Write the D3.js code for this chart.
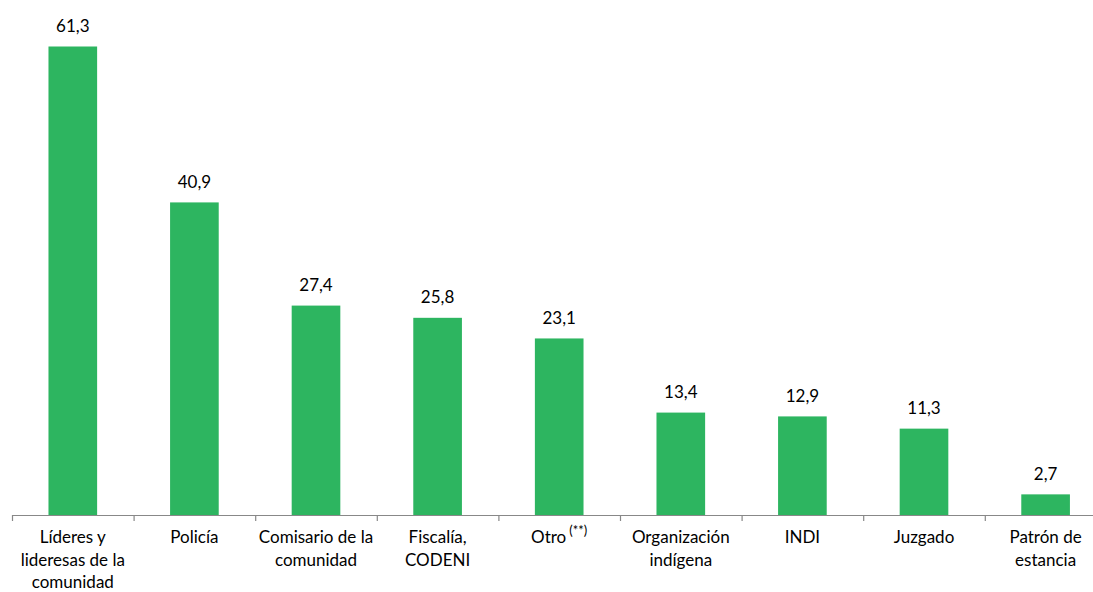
<!DOCTYPE html>
<html>
<head>
<meta charset="utf-8">
<script src="https://cdn.jsdelivr.net/npm/d3@7"></script>
<style>
  html, body { margin: 0; padding: 0; background: #fff; }
  svg { display: block; font-family: Lato, "Open Sans", "Noto Sans", sans-serif; }
</style>
</head>
<body>
<svg id="chart" width="1093" height="592"></svg>
<script>
// Category labels (each entry is a list of lines) and percentage values
const categories = [
  ["Líderes y", "lideresas de la", "comunidad"],
  ["Policía"],
  ["Comisario de la", "comunidad"],
  ["Fiscalía,", "CODENI"],
  ["Otro"],
  ["Organización", "indígena"],
  ["INDI"],
  ["Juzgado"],
  ["Patrón de", "estancia"]
];
const values = [61.3, 40.9, 27.4, 25.8, 23.1, 13.4, 12.9, 11.3, 2.7];
// Superscript notes attached to some category labels
const notes = ["", "", "", "", "(**)", "", "", "", ""];

const svg = d3.select("#chart");
const W = 1093, H = 592;
const baseY = 515;
const green = "#2db560";
const axisColor = "#888888";

const x = d3.scaleBand()
  .domain(d3.range(categories.length))
  .range([12, 12 + 121.6 * categories.length])
  .paddingInner(0.6)
  .paddingOuter(0.3);

const y = d3.scaleLinear()
  .domain([0, 61.3])
  .range([baseY, 46.5]);

// Bars
svg.append("g").selectAll("rect")
  .data(values)
  .join("rect")
  .attr("x", (d, i) => x(i))
  .attr("y", d => y(d))
  .attr("width", x.bandwidth())
  .attr("height", d => baseY - y(d))
  .attr("fill", green);

// Value labels
svg.append("g").selectAll("text")
  .data(values)
  .join("text")
  .attr("x", (d, i) => x(i) + x.bandwidth() / 2)
  .attr("y", d => y(d) - 14.5)
  .attr("text-anchor", "middle")
  .attr("font-size", 17)
  .attr("fill", "#000")
  .text(d => d3.format(".1f")(d).replace(".", ","));

// Category axis line and ticks at band boundaries
const step = x.step();
const axisG = svg.append("g");
axisG.append("line")
  .attr("x1", 12).attr("x2", W)
  .attr("y1", baseY + 0.5).attr("y2", baseY + 0.5)
  .attr("stroke", axisColor).attr("stroke-width", 1.2);
axisG.selectAll("line.tick")
  .data(d3.range(categories.length + 1))
  .join("line")
  .attr("class", "tick")
  .attr("x1", i => 12 + i * step + 0.5)
  .attr("x2", i => 12 + i * step + 0.5)
  .attr("y1", baseY)
  .attr("y2", baseY + 6)
  .attr("stroke", axisColor).attr("stroke-width", 1.2);

// Category labels
const labelG = svg.append("g");
categories.forEach((lines, i) => {
  const cx = x(i) + x.bandwidth() / 2;
  const t = labelG.append("text")
    .attr("text-anchor", "middle")
    .attr("font-size", 17)
    .attr("fill", "#000");
  lines.forEach((ln, k) => {
    t.append("tspan")
      .attr("x", cx)
      .attr("y", 543 + k * 22.5)
      .text(ln);
  });
  if (notes[i]) {
    t.append("tspan")
      .attr("dx", 3)
      .attr("dy", -8)
      .attr("font-size", 13)
      .text(notes[i]);
  }
});
</script>
</body>
</html>
